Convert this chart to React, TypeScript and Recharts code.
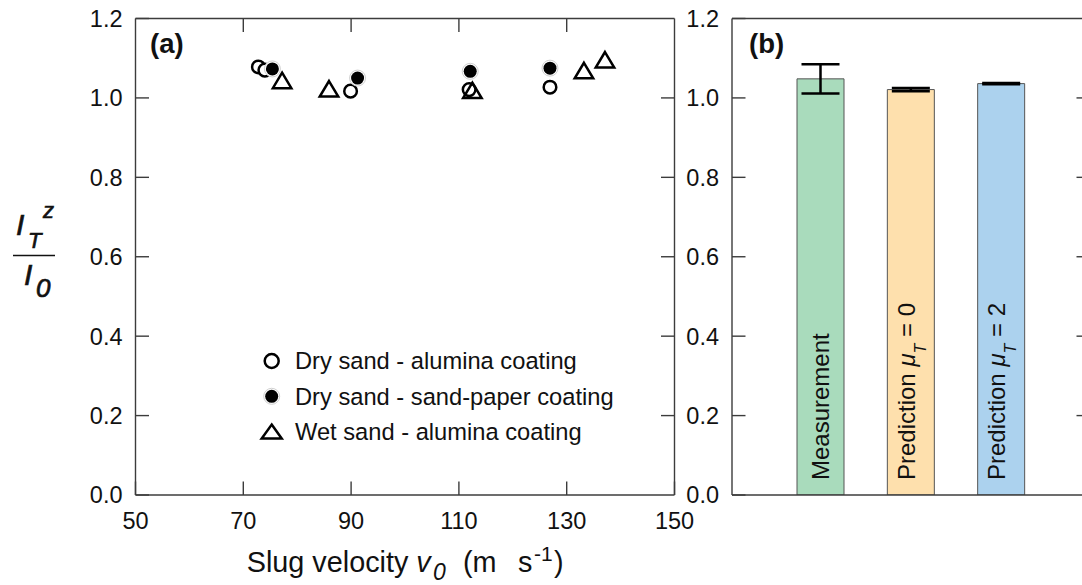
import React from 'react';
import {
  ScatterChart,
  Scatter,
  XAxis,
  YAxis,
  Legend,
  BarChart,
  Bar,
  ErrorBar,
  LabelList,
  Cell,
} from 'recharts';

// ---------------- data ----------------
const velocityTicks = [50, 70, 90, 110, 130, 150];
const innerVelocityTicks = [70, 90, 110, 130];
const ratioTicks = [0, 0.2, 0.4, 0.6, 0.8, 1.0, 1.2];
const innerRatioTicks = [0.2, 0.4, 0.6, 0.8, 1.0];

const drySandAluminaV = [72.8, 74.0, 89.9, 111.9, 126.9];
const drySandAluminaR = [1.078, 1.07, 1.017, 1.021, 1.027];
const drySandPaperV = [75.4, 91.2, 112.1, 126.9];
const drySandPaperR = [1.073, 1.05, 1.067, 1.075];
const wetSandAluminaV = [77.2, 85.9, 112.5, 133.2, 137.1];
const wetSandAluminaR = [1.044, 1.023, 1.019, 1.069, 1.096];

const barCategories = ['Measurement', 'Prediction μ_T = 0', 'Prediction μ_T = 2'];
const barValues = [1.048, 1.021, 1.036];
const barErrors = [0.037, 0.004, 0.0015];
const barColors = ['#a9dbbc', '#fee0ad', '#acd2ee'];

// ---------------- style ----------------
const FONT = '"Liberation Sans", Arial, Helvetica, sans-serif';
const AXIS = '#3c3c3c';
const TEXT = '#111';
const TICK_LEN = 13.5;
const TICK_FS = 23.5;

type Marker = 'open' | 'filled' | 'triangle';

const OpenCircle = ({ cx, cy, r = 6.3 }: any) => (
  <circle cx={cx} cy={cy} r={r} fill="#fff" stroke="#000" strokeWidth={2.5} />
);
const FilledCircle = ({ cx, cy }: any) => (
  <g>
    <circle cx={cx} cy={cy} r={8} fill="#fff" stroke="#d0d0d0" strokeWidth={1} />
    <circle cx={cx} cy={cy} r={6.5} fill="#000" />
  </g>
);
const Triangle = ({ cx, cy, w = 18.5, h = 15.5 }: any) => (
  <path
    d={`M${cx},${cy - h / 2}L${cx + w / 2},${cy + h / 2}L${cx - w / 2},${cy + h / 2}Z`}
    fill="none"
    stroke="#000"
    strokeWidth={2.5}
    strokeLinejoin="miter"
  />
);

const drawMarker = (m: Marker, cx: number, cy: number, legend = false) => {
  if (m === 'open') return <OpenCircle cx={cx} cy={cy} r={legend ? 7 : 6.3} />;
  if (m === 'filled') return <FilledCircle cx={cx} cy={cy} />;
  return legend ? <Triangle cx={cx} cy={cy} w={20} h={14} /> : <Triangle cx={cx} cy={cy} />;
};

const seriesA = [
  { name: 'Dry sand - alumina coating', v: drySandAluminaV, r: drySandAluminaR, marker: 'open' as Marker, legendOrder: 0 },
  { name: 'Wet sand - alumina coating', v: wetSandAluminaV, r: wetSandAluminaR, marker: 'triangle' as Marker, legendOrder: 2 },
  { name: 'Dry sand - sand-paper coating', v: drySandPaperV, r: drySandPaperR, marker: 'filled' as Marker, legendOrder: 1 },
];

const barData = barCategories.map((name, i) => ({
  name,
  value: barValues[i],
  err: barErrors[i],
}));

// ---------------- ticks ----------------
const LeftTick = (p: any) => {
  const { x, y, payload } = p;
  return (
    <g>
      <line x1={x} y1={y} x2={x + TICK_LEN} y2={y} stroke={AXIS} strokeWidth={1.4} />
      <text x={x - 13} y={y + 8.4} textAnchor="end" fontSize={TICK_FS} fill={TEXT} fontFamily={FONT}>
        {Number(payload.value).toFixed(1)}
      </text>
    </g>
  );
};
const RightTick = (p: any) => {
  const { x, y } = p;
  return <line x1={x} y1={y} x2={x - TICK_LEN} y2={y} stroke={AXIS} strokeWidth={1.4} />;
};
const TopTick = (p: any) => {
  const { x, y } = p;
  return <line x1={x} y1={y} x2={x} y2={y + TICK_LEN} stroke={AXIS} strokeWidth={1.4} />;
};
const BottomTick = (p: any) => {
  const { x, y, payload } = p;
  return (
    <g>
      <line x1={x} y1={y} x2={x} y2={y - TICK_LEN} stroke={AXIS} strokeWidth={1.4} />
      <text x={x} y={y + 34} textAnchor="middle" fontSize={TICK_FS} fill={TEXT} fontFamily={FONT}>
        {payload.value}
      </text>
    </g>
  );
};

const renderLegend = (props: any) => {
  const payload: any[] = props && props.payload && props.payload.length ? props.payload : seriesA.map((s) => ({ value: s.name }));
  const items = payload
    .map((it) => seriesA.find((s) => s.name === it.value))
    .filter(Boolean)
    .sort((a: any, b: any) => a.legendOrder - b.legendOrder) as typeof seriesA;
  return (
    <svg width={380} height={115} style={{ display: 'block', overflow: 'visible' }}>
      {items.map((s, i) => {
        const cy = 21 + i * 35.3;
        return (
          <g key={s.name}>
            {drawMarker(s.marker, 16.7, cy, true)}
            <text x={40} y={cy + 8.3} fontSize={23.7} fill={TEXT} fontFamily={FONT}>
              {s.name}
            </text>
          </g>
        );
      })}
    </svg>
  );
};

const renderBarLabel = (props: any) => {
  const vb = props.viewBox || props;
  const x = vb.x ?? props.x;
  const y = vb.y ?? props.y;
  const width = vb.width ?? props.width;
  const height = vb.height ?? props.height;
  const value: string = String(props.value);
  const cx = x + width / 2;
  const hasSub = value.includes('μ_T');
  const bx = cx + (hasSub ? 4 : 8);
  const by = y + height - 15;
  let content: React.ReactNode = value;
  if (hasSub) {
    const [pre, post] = value.split('μ_T');
    content = (
      <>
        {pre}
        <tspan fontStyle="italic">μ</tspan>
        <tspan fontStyle="italic" fontSize={16} dy={11}>T</tspan>
        <tspan dy={-11}>{post}</tspan>
      </>
    );
  }
  return (
    <text
      x={bx}
      y={by}
      transform={`rotate(-90 ${bx} ${by})`}
      textAnchor="start"
      fontSize={24}
      fill={TEXT}
      fontFamily={FONT}
    >
      {content}
    </text>
  );
};

const axisLineStyle = { stroke: AXIS, strokeWidth: 1.4 };

export default function App() {
  return (
    <div
      style={{
        position: 'fixed',
        left: 0,
        top: 0,
        width: 1082,
        height: 585,
        overflow: 'hidden',
        background: '#fff',
        fontFamily: FONT,
      }}
    >
      <div style={{ position: 'absolute', left: 0, top: 0 }}>
        <ScatterChart width={700} height={585} margin={{ top: 8.5, right: 15.5, bottom: 50, left: 75.5 }}>
          <XAxis
            xAxisId="bottom"
            type="number"
            dataKey="x"
            orientation="bottom"
            domain={[50, 150]}
            ticks={velocityTicks}
            interval={0}
            height={40}
            tickSize={0}
            tickMargin={0}
            tickLine={false}
            axisLine={axisLineStyle}
            tick={(p: any) => <BottomTick {...p} />}
            allowDataOverflow
          />
          <XAxis
            xAxisId="top"
            type="number"
            dataKey="x"
            orientation="top"
            domain={[50, 150]}
            ticks={innerVelocityTicks}
            interval={0}
            height={10}
            tickSize={0}
            tickMargin={0}
            tickLine={false}
            axisLine={axisLineStyle}
            tick={(p: any) => <TopTick {...p} />}
            allowDataOverflow
          />
          <YAxis
            yAxisId="left"
            type="number"
            dataKey="y"
            domain={[0, 1.2]}
            ticks={ratioTicks}
            interval={0}
            width={60}
            tickSize={0}
            tickMargin={0}
            tickLine={false}
            axisLine={axisLineStyle}
            tick={(p: any) => <LeftTick {...p} />}
            allowDataOverflow
          />
          <YAxis
            yAxisId="right"
            type="number"
            dataKey="y"
            orientation="right"
            domain={[0, 1.2]}
            ticks={innerRatioTicks}
            interval={0}
            width={10}
            tickSize={0}
            tickMargin={0}
            tickLine={false}
            axisLine={axisLineStyle}
            tick={(p: any) => <RightTick {...p} />}
            allowDataOverflow
          />
          {seriesA.map((s) => (
            <Scatter
              key={s.name}
              name={s.name}
              data={s.v.map((x, i) => ({ x, y: s.r[i] }))}
              xAxisId="bottom"
              yAxisId="left"
              isAnimationActive={false}
              shape={(p: any) => drawMarker(s.marker, p.cx, p.cy)}
            />
          ))}
          <Legend
            layout="vertical"
            align="center"
            verticalAlign="middle"
            content={renderLegend}
            wrapperStyle={{ left: 255, top: 340, width: 380, height: 115 }}
          />
        </ScatterChart>
      </div>

      <div style={{ position: 'absolute', left: 680, top: 0 }}>
        <BarChart width={420} height={585} data={barData} margin={{ top: 8.5, right: 5, bottom: 50, left: 12 }}>
          <XAxis
            xAxisId="bottom"
            dataKey="name"
            type="category"
            orientation="bottom"
            height={40}
            padding={{ left: 43, right: 44 }}
            tick={false}
            tickLine={false}
            axisLine={axisLineStyle}
          />
          <XAxis
            xAxisId="top"
            dataKey="name"
            type="category"
            orientation="top"
            height={10}
            padding={{ left: 43, right: 44 }}
            tick={false}
            tickLine={false}
            axisLine={axisLineStyle}
          />
          <YAxis
            yAxisId="left"
            type="number"
            domain={[0, 1.2]}
            ticks={ratioTicks}
            interval={0}
            width={40}
            tickSize={0}
            tickMargin={0}
            tickLine={false}
            axisLine={axisLineStyle}
            tick={(p: any) => <LeftTick {...p} />}
            allowDataOverflow
          />
          <YAxis
            yAxisId="right"
            type="number"
            orientation="right"
            domain={[0, 1.2]}
            ticks={innerRatioTicks}
            interval={0}
            width={5}
            tickSize={0}
            tickMargin={0}
            tickLine={false}
            axisLine={axisLineStyle}
            tick={(p: any) => <RightTick {...p} />}
            allowDataOverflow
          />
          <Bar
            dataKey="value"
            xAxisId="bottom"
            yAxisId="left"
            barSize={47}
            stroke="#555"
            strokeWidth={1}
            isAnimationActive={false}
          >
            {barData.map((d, i) => (
              <Cell key={d.name} fill={barColors[i]} />
            ))}
            <ErrorBar dataKey="err" width={19} strokeWidth={2.5} stroke="#000" direction="y" />
            <LabelList dataKey="name" content={renderBarLabel} />
          </Bar>
        </BarChart>
      </div>

      <svg
        width={1082}
        height={585}
        style={{ position: 'absolute', left: 0, top: 0, pointerEvents: 'none' }}
        fontFamily={FONT}
        fill={TEXT}
      >
        {/* y-axis title: I_T^z / I_0 */}
        <g stroke={TEXT} strokeWidth={0.7}>
          <text x={16} y={235} fontSize={30} fontStyle="italic">I</text>
          <text x={28} y={248} fontSize={22} fontStyle="italic">T</text>
          <text x={43} y={218} fontSize={22} fontStyle="italic">z</text>
          <text x={24} y={285} fontSize={30} fontStyle="italic">I</text>
          <text x={36} y={297} fontSize={26} fontStyle="italic">0</text>
        </g>
        <line x1={13} x2={55} y1={255.5} y2={255.5} stroke={TEXT} strokeWidth={1.7} />

        {/* x-axis title */}
        <text x={246.7} y={571.7} fontSize={28.8}>
          Slug velocity <tspan fontStyle="italic">v</tspan>
        </text>
        <text x={433} y={580} fontSize={23} fontStyle="italic">0</text>
        <text x={463} y={571.7} fontSize={28.8}>(m</text>
        <text x={518} y={571.7} fontSize={28.8}>s</text>
        <text x={534} y={561} fontSize={21}>-1</text>
        <text x={554} y={571.7} fontSize={28.8}>)</text>

        {/* panel labels */}
        <text x={150} y={53} fontSize={27.5} fontWeight="bold">(a)</text>
        <text x={749} y={53} fontSize={27.5} fontWeight="bold">(b)</text>
      </svg>
    </div>
  );
}
